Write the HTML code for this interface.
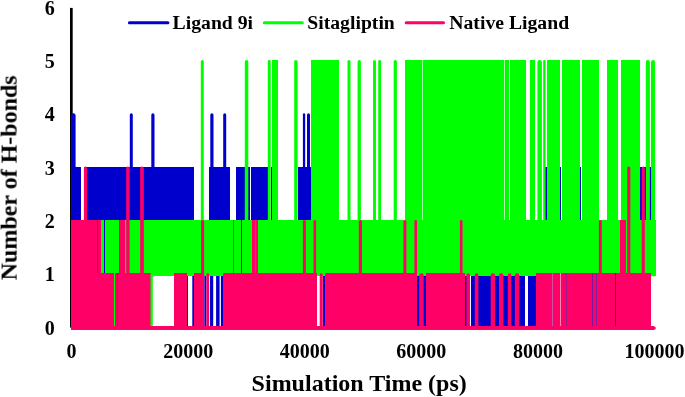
<!DOCTYPE html>
<html><head><meta charset="utf-8"><style>
html,body{margin:0;padding:0;background:#fff;}
svg{display:block;}
text{font-family:"Liberation Serif",serif;font-weight:bold;fill:#000;}
</style></head><body>
<svg width="685" height="397" viewBox="0 0 685 397" >
<rect width="685" height="397" fill="#fff"/>
<rect x="70.0" y="7.9" width="2.7" height="319.7" fill="#000"/>
<g shape-rendering="crispEdges">
<rect x="71.00" y="166.60" width="9.90" height="109.60" fill="#0000CC"/>
<path d="M80.90,276.20V221.40A1.50,1.50 0 0 1 83.90,221.40V276.20Z" fill="#0000CC" shape-rendering="auto"/>
<rect x="83.90" y="166.60" width="109.80" height="109.60" fill="#0000CC"/>
<path d="M71.00,276.20V115.60A2.30,2.30 0 0 1 75.60,115.60V276.20Z" fill="#0000CC" shape-rendering="auto"/>
<path d="M129.80,276.20V114.80A1.50,1.50 0 0 1 132.80,114.80V276.20Z" fill="#0000CC" shape-rendering="auto"/>
<path d="M151.30,276.20V114.90A1.60,1.60 0 0 1 154.50,114.90V276.20Z" fill="#0000CC" shape-rendering="auto"/>
<rect x="209.10" y="166.60" width="21.10" height="109.60" fill="#0000CC"/>
<path d="M210.30,276.20V114.90A1.60,1.60 0 0 1 213.50,114.90V276.20Z" fill="#0000CC" shape-rendering="auto"/>
<path d="M223.20,276.20V114.80A1.50,1.50 0 0 1 226.20,114.80V276.20Z" fill="#0000CC" shape-rendering="auto"/>
<rect x="235.50" y="166.60" width="14.10" height="109.60" fill="#0000CC"/>
<rect x="250.50" y="166.60" width="17.60" height="109.60" fill="#0000CC"/>
<rect x="270.70" y="166.60" width="0.90" height="56.30" fill="#0000CC"/>
<rect x="298.20" y="166.60" width="13.00" height="109.60" fill="#0000CC"/>
<path d="M302.90,276.20V114.45A1.15,1.15 0 0 1 305.20,114.45V276.20Z" fill="#0000CC" shape-rendering="auto"/>
<path d="M307.00,276.20V114.80A1.50,1.50 0 0 1 310.00,114.80V276.20Z" fill="#0000CC" shape-rendering="auto"/>
<rect x="187.00" y="273.20" width="1.30" height="55.30" fill="#0000CC"/>
<path d="M192.30,328.50V274.25A1.05,1.05 0 0 1 194.40,274.25V328.50Z" fill="#0000CC" shape-rendering="auto"/>
<path d="M204.30,328.50V274.25A1.05,1.05 0 0 1 206.40,274.25V328.50Z" fill="#0000CC" shape-rendering="auto"/>
<path d="M210.00,328.50V274.80A1.60,1.60 0 0 1 213.20,274.80V328.50Z" fill="#0000CC" shape-rendering="auto"/>
<path d="M216.10,328.50V274.95A1.75,1.75 0 0 1 219.60,274.95V328.50Z" fill="#0000CC" shape-rendering="auto"/>
<path d="M220.90,328.50V274.35A1.15,1.15 0 0 1 223.20,274.35V328.50Z" fill="#0000CC" shape-rendering="auto"/>
<rect x="322.80" y="273.20" width="1.80" height="55.30" fill="#0000CC"/>
<rect x="417.40" y="273.20" width="52.60" height="55.30" fill="#0000CC"/>
<rect x="471.30" y="273.20" width="53.20" height="55.30" fill="#0000CC"/>
<rect x="528.10" y="273.20" width="8.30" height="55.30" fill="#0000CC"/>
<rect x="545.20" y="166.60" width="1.40" height="56.30" fill="#0000CC"/>
<rect x="560.00" y="166.60" width="1.40" height="56.30" fill="#0000CC"/>
<rect x="579.30" y="166.60" width="1.50" height="56.30" fill="#0000CC"/>
<rect x="640.20" y="166.60" width="1.50" height="56.30" fill="#0000CC"/>
<rect x="644.30" y="166.60" width="1.50" height="56.30" fill="#0000CC"/>
<rect x="649.40" y="166.60" width="1.20" height="56.30" fill="#0000CC"/>
<rect x="100.70" y="219.90" width="554.80" height="56.30" fill="#00FF00"/>
<path d="M200.80,276.20V61.50A1.50,1.50 0 0 1 203.80,61.50V276.20Z" fill="#00FF00" shape-rendering="auto"/>
<path d="M244.80,276.20V61.75A1.75,1.75 0 0 1 248.30,61.75V276.20Z" fill="#00FF00" shape-rendering="auto"/>
<path d="M267.80,276.20V61.45A1.45,1.45 0 0 1 270.70,61.45V276.20Z" fill="#00FF00" shape-rendering="auto"/>
<rect x="271.60" y="60.00" width="6.70" height="216.20" fill="#00FF00"/>
<path d="M294.20,276.20V61.70A1.70,1.70 0 0 1 297.60,61.70V276.20Z" fill="#00FF00" shape-rendering="auto"/>
<rect x="311.20" y="60.00" width="27.50" height="216.20" fill="#00FF00"/>
<path d="M347.50,276.20V61.50A1.50,1.50 0 0 1 350.50,61.50V276.20Z" fill="#00FF00" shape-rendering="auto"/>
<path d="M357.60,276.20V61.65A1.65,1.65 0 0 1 360.90,61.65V276.20Z" fill="#00FF00" shape-rendering="auto"/>
<path d="M373.00,276.20V61.50A1.50,1.50 0 0 1 376.00,61.50V276.20Z" fill="#00FF00" shape-rendering="auto"/>
<path d="M378.20,276.20V61.45A1.45,1.45 0 0 1 381.10,61.45V276.20Z" fill="#00FF00" shape-rendering="auto"/>
<path d="M393.70,276.20V61.60A1.60,1.60 0 0 1 396.90,61.60V276.20Z" fill="#00FF00" shape-rendering="auto"/>
<rect x="405.10" y="60.00" width="121.20" height="216.20" fill="#00FF00"/>
<rect x="529.50" y="60.00" width="5.40" height="216.20" fill="#00FF00"/>
<path d="M537.40,276.20V62.25A2.25,2.25 0 0 1 541.90,62.25V276.20Z" fill="#00FF00" shape-rendering="auto"/>
<path d="M543.20,276.20V61.20A1.20,1.20 0 0 1 545.60,61.20V276.20Z" fill="#00FF00" shape-rendering="auto"/>
<rect x="546.90" y="60.00" width="12.80" height="216.20" fill="#00FF00"/>
<rect x="561.80" y="60.00" width="17.90" height="216.20" fill="#00FF00"/>
<rect x="581.80" y="60.00" width="17.10" height="216.20" fill="#00FF00"/>
<rect x="607.00" y="60.00" width="10.90" height="216.20" fill="#00FF00"/>
<rect x="621.00" y="60.00" width="18.80" height="216.20" fill="#00FF00"/>
<path d="M645.80,276.20V62.05A2.05,2.05 0 0 1 649.90,62.05V276.20Z" fill="#00FF00" shape-rendering="auto"/>
<path d="M651.00,276.20V62.05A2.05,2.05 0 0 1 655.10,62.05V276.20Z" fill="#00FF00" shape-rendering="auto"/>
<rect x="71.00" y="219.90" width="29.70" height="108.60" fill="#FF0066"/>
<path d="M83.90,328.50V168.20A1.60,1.60 0 0 1 87.10,168.20V328.50Z" fill="#FF0066" shape-rendering="auto"/>
<rect x="100.70" y="273.20" width="49.80" height="55.30" fill="#FF0066"/>
<rect x="119.30" y="219.90" width="5.60" height="108.60" fill="#FF0066"/>
<path d="M126.20,328.50V168.30A1.70,1.70 0 0 1 129.60,168.30V328.50Z" fill="#FF0066" shape-rendering="auto"/>
<path d="M140.20,328.50V168.40A1.80,1.80 0 0 1 143.80,168.40V328.50Z" fill="#FF0066" shape-rendering="auto"/>
<rect x="173.90" y="273.20" width="13.10" height="55.30" fill="#FF0066"/>
<rect x="194.40" y="273.20" width="9.90" height="55.30" fill="#FF0066"/>
<path d="M201.10,328.50V221.40A1.50,1.50 0 0 1 204.10,221.40V328.50Z" fill="#FF0066" shape-rendering="auto"/>
<path d="M206.40,328.50V274.55A1.35,1.35 0 0 1 209.10,274.55V328.50Z" fill="#FF0066" shape-rendering="auto"/>
<rect x="223.20" y="273.20" width="93.30" height="55.30" fill="#FF0066"/>
<rect x="252.20" y="219.90" width="5.90" height="108.60" fill="#FF0066"/>
<path d="M302.90,328.50V221.40A1.50,1.50 0 0 1 305.90,221.40V328.50Z" fill="#FF0066" shape-rendering="auto"/>
<path d="M313.50,328.50V221.20A1.30,1.30 0 0 1 316.10,221.20V328.50Z" fill="#FF0066" shape-rendering="auto"/>
<path d="M358.80,328.50V221.50A1.60,1.60 0 0 1 362.00,221.50V328.50Z" fill="#FF0066" shape-rendering="auto"/>
<path d="M403.40,328.50V221.40A1.50,1.50 0 0 1 406.40,221.40V328.50Z" fill="#FF0066" shape-rendering="auto"/>
<path d="M414.40,328.50V221.20A1.30,1.30 0 0 1 417.00,221.20V328.50Z" fill="#FF0066" shape-rendering="auto"/>
<path d="M459.90,328.50V221.20A1.30,1.30 0 0 1 462.50,221.20V328.50Z" fill="#FF0066" shape-rendering="auto"/>
<path d="M598.90,328.50V221.35A1.45,1.45 0 0 1 601.80,221.35V328.50Z" fill="#FF0066" shape-rendering="auto"/>
<rect x="620.00" y="219.90" width="6.20" height="108.60" fill="#FF0066"/>
<path d="M627.20,328.50V168.15A1.55,1.55 0 0 1 630.30,168.15V328.50Z" fill="#FF0066" shape-rendering="auto"/>
<path d="M641.70,328.50V168.15A1.55,1.55 0 0 1 644.80,168.15V328.50Z" fill="#FF0066" shape-rendering="auto"/>
<path d="M319.70,328.50V274.75A1.55,1.55 0 0 1 322.80,274.75V328.50Z" fill="#FF0066" shape-rendering="auto"/>
<rect x="324.60" y="273.20" width="92.80" height="55.30" fill="#FF0066"/>
<path d="M419.20,328.50V275.45A2.25,2.25 0 0 1 423.70,275.45V328.50Z" fill="#FF0066" shape-rendering="auto"/>
<rect x="425.90" y="273.20" width="39.10" height="55.30" fill="#FF0066"/>
<path d="M466.40,328.50V275.00A1.80,1.80 0 0 1 470.00,275.00V328.50Z" fill="#FF0066" shape-rendering="auto"/>
<path d="M474.80,328.50V275.00A1.80,1.80 0 0 1 478.40,275.00V328.50Z" fill="#FF0066" shape-rendering="auto"/>
<path d="M490.70,328.50V275.40A2.20,2.20 0 0 1 495.10,275.40V328.50Z" fill="#FF0066" shape-rendering="auto"/>
<path d="M499.00,328.50V275.40A2.20,2.20 0 0 1 503.40,275.40V328.50Z" fill="#FF0066" shape-rendering="auto"/>
<path d="M507.80,328.50V274.95A1.75,1.75 0 0 1 511.30,274.95V328.50Z" fill="#FF0066" shape-rendering="auto"/>
<path d="M514.80,328.50V275.45A2.25,2.25 0 0 1 519.30,275.45V328.50Z" fill="#FF0066" shape-rendering="auto"/>
<rect x="536.40" y="273.20" width="114.60" height="55.30" fill="#FF0066"/>
<rect x="114.00" y="273.20" width="0.90" height="55.30" fill="#00FF00"/>
<path d="M150.50,328.50V274.35A1.15,1.15 0 0 1 152.80,274.35V328.50Z" fill="#00FF00" shape-rendering="auto"/>
<rect x="104.00" y="219.90" width="1.40" height="53.10" fill="#0000CC"/>
<rect x="125.00" y="219.90" width="1.00" height="53.10" fill="#00FF00"/>
<rect x="96.90" y="219.90" width="1.00" height="53.10" fill="#80108C"/>
<rect x="117.00" y="273.20" width="0.90" height="55.30" fill="#80108C"/>
<rect x="233.00" y="219.90" width="1.00" height="53.10" fill="#009060"/>
<rect x="241.00" y="219.90" width="1.00" height="53.10" fill="#0020C0"/>
<rect x="254.70" y="219.90" width="1.00" height="53.10" fill="#C04070"/>
<rect x="552.00" y="273.20" width="1.00" height="55.30" fill="#D050A8"/>
<rect x="559.50" y="273.20" width="1.00" height="55.30" fill="#FF8CB4"/>
<rect x="565.50" y="273.20" width="1.00" height="55.30" fill="#A01890"/>
<rect x="591.70" y="273.20" width="1.00" height="55.30" fill="#781898"/>
<rect x="596.00" y="273.20" width="1.00" height="55.30" fill="#8020A0"/>
<rect x="614.60" y="273.20" width="1.20" height="55.30" fill="#4010B0"/>
<rect x="421.80" y="60.00" width="1.00" height="159.70" fill="#A0FFA0"/>
<rect x="504.30" y="60.00" width="1.00" height="159.70" fill="#B0FFB0"/>
<rect x="509.00" y="60.00" width="1.00" height="159.70" fill="#F0FFF0"/>
</g>
<rect x="71.0" y="326.40" width="583.2" height="3.4" fill="#FF0066" shape-rendering="crispEdges"/><circle cx="654.2" cy="328.10" r="1.6" fill="#FF0066"/>

<line x1="129.4" y1="22.8" x2="167.9" y2="22.8" stroke="#0000CC" stroke-width="3" stroke-linecap="round"/>
<line x1="264.3" y1="22.8" x2="302.3" y2="22.8" stroke="#00FF00" stroke-width="3" stroke-linecap="round"/>
<line x1="406.2" y1="22.8" x2="443.5" y2="22.8" stroke="#FF0066" stroke-width="3" stroke-linecap="round"/>

<g font-size="20" style="filter:grayscale(1)">
<text x="54.8" y="334.60" text-anchor="end">0</text><text x="54.8" y="281.30" text-anchor="end">1</text><text x="54.8" y="228.00" text-anchor="end">2</text><text x="54.8" y="174.70" text-anchor="end">3</text><text x="54.8" y="121.40" text-anchor="end">4</text><text x="54.8" y="68.10" text-anchor="end">5</text><text x="54.8" y="14.80" text-anchor="end">6</text><text x="71.60" y="358" text-anchor="middle">0</text><text x="188.17" y="358" text-anchor="middle">20000</text><text x="304.74" y="358" text-anchor="middle">40000</text><text x="421.31" y="358" text-anchor="middle">60000</text><text x="537.88" y="358" text-anchor="middle">80000</text><text x="654.45" y="358" text-anchor="middle">100000</text>
</g>
<g style="filter:grayscale(1)">

<text x="172.6" y="29" font-size="19.7">Ligand 9i</text>
<text x="307.3" y="29" font-size="19.7">Sitagliptin</text>
<text x="449.3" y="29" font-size="19.7">Native Ligand</text>


<text x="359.2" y="391" font-size="24" text-anchor="middle">Simulation Time (ps)</text>
<text transform="translate(16.6,177.8) rotate(-90)" font-size="24" text-anchor="middle">Number of H-bonds</text>

</g>
</svg>
</body></html>
